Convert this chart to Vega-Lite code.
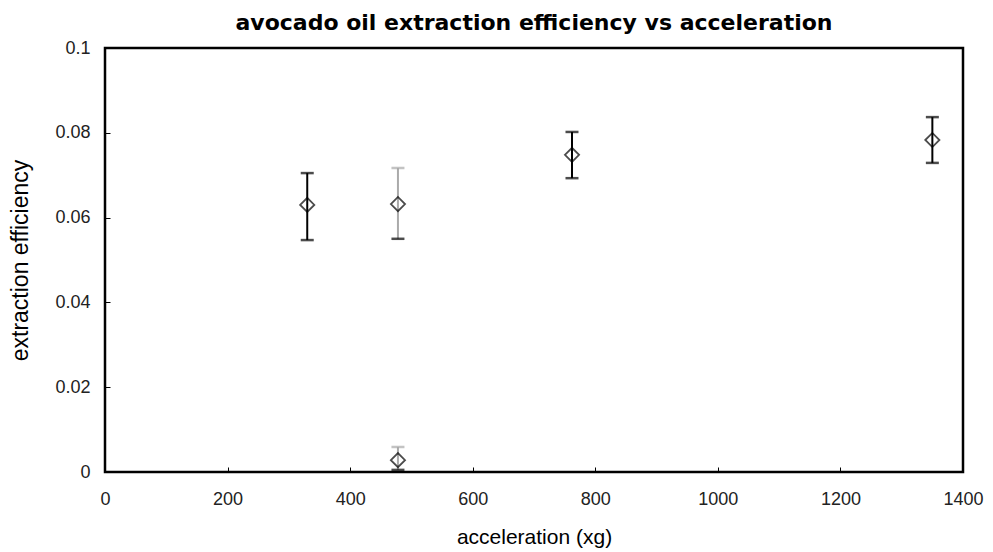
{
  "$schema": "https://vega.github.io/schema/vega-lite/v6.json",
  "width": 858,
  "height": 424,
  "autosize": "none",
  "padding": {"left": 105, "top": 48, "right": 30, "bottom": 80},
  "background": "white",
  "config": {
    "font": "Liberation Sans",
    "view": {"stroke": "black", "strokeWidth": 2.5},
    "axis": {"grid": false, "domain": false, "tickColor": "black", "tickSize": -5, "tickWidth": 1, "labelFont": "Liberation Sans", "labelFontSize": 18, "labelColor": "#222", "titleFont": "Liberation Sans", "titleFontSize": 21, "titleFontWeight": "normal", "titleColor": "black"}
  },
  "title": {"text": "avocado oil extraction efficiency vs acceleration", "fontSize": 22, "fontWeight": "bold", "font": "DejaVu Sans", "color": "black", "offset": 4, "anchor": "middle"},
  "data": {"values": [
    {"x": 330, "y": 0.0630, "lo": 0.0547, "hi": 0.0705, "grp": "a"},
    {"x": 478, "y": 0.0632, "lo": 0.0550, "hi": 0.0717, "grp": "b"},
    {"x": 478, "y": 0.0028, "lo": 0.0005, "hi": 0.0059, "grp": "b"},
    {"x": 762, "y": 0.0748, "lo": 0.0693, "hi": 0.0802, "grp": "a"},
    {"x": 1350, "y": 0.0783, "lo": 0.0729, "hi": 0.0837, "grp": "a"}
  ]},
  "layer": [
    {
      "mark": {"type": "rule", "strokeWidth": 2},
      "encoding": {
        "x": {"field": "x", "type": "quantitative", "scale": {"domain": [0, 1400], "nice": false}, "axis": {"orient": "bottom", "values": [0, 200, 400, 600, 800, 1000, 1200, 1400], "format": "d", "labelPadding": 23, "title": "acceleration (xg)", "titlePadding": 18, "labelFlush": false}},
        "y": {"field": "lo", "type": "quantitative", "scale": {"domain": [0, 0.1], "nice": false, "zero": true}, "axis": {"orient": "left", "values": [0, 0.02, 0.04, 0.06, 0.08, 0.1], "format": "~g", "labelPadding": 20, "title": "extraction efficiency", "titlePadding": 22, "titleFontSize": 23, "labelFlush": false}},
        "y2": {"field": "hi"},
        "color": {"field": "grp", "type": "nominal", "scale": {"domain": ["a", "b"], "range": ["black", "#aaaaaa"]}, "legend": null}
      }
    },
    {
      "mark": {"type": "tick", "orient": "horizontal", "size": 13, "thickness": 2.5},
      "encoding": {
        "x": {"field": "x", "type": "quantitative"},
        "y": {"field": "hi", "type": "quantitative"},
        "color": {"field": "grp", "type": "nominal", "legend": null}
      }
    },
    {
      "mark": {"type": "tick", "orient": "horizontal", "size": 13, "thickness": 2.5, "color": "black"},
      "encoding": {
        "x": {"field": "x", "type": "quantitative"},
        "y": {"field": "lo", "type": "quantitative"}
      }
    },
    {
      "mark": {"type": "point", "shape": "diamond", "size": 200, "filled": false, "strokeWidth": 1.8, "color": "black"},
      "encoding": {
        "x": {"field": "x", "type": "quantitative"},
        "y": {"field": "y", "type": "quantitative"}
      }
    }
  ]
}
